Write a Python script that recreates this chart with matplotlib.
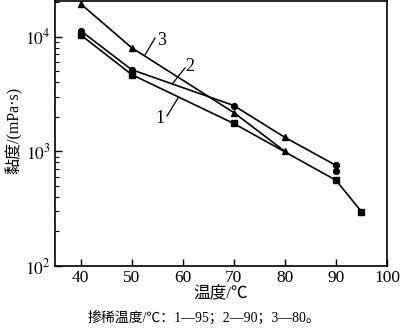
import matplotlib
matplotlib.use("Agg")
import matplotlib.pyplot as plt
from matplotlib.ticker import LogLocator, NullFormatter, FixedLocator

plt.rcParams['font.family'] = ['Liberation Serif', 'Noto Sans CJK SC']
plt.rcParams['mathtext.fontset'] = 'stix'

# Curve 1 (dilution 95 C)
x1 = [40, 50, 70, 90, 95]
y1 = [10400, 4680, 1750, 560, 298]
# Curve 2 (dilution 90 C)
x2 = [40, 50, 70, 80, 90, 90]
y2 = [11300, 5160, 2510, 1325, 755, 670]
m2 = ['o', 'o', 'o', '^', 'o', 'o']
# Curve 3 (dilution 80 C)
x3 = [40, 50, 70, 80]
y3 = [19400, 8020, 2180, 1000]

curve_labels = ['1', '2', '3']
xticks = [40, 50, 60, 70, 80, 90, 100]
yticks = [1e2, 1e3, 1e4]
ytick_labels = ['$10^2$', '$10^3$', '$10^4$']
xlabel = '温度/℃'
ylabel = '黏度/(mPa·s)'
caption = '掺稀温度/℃：1—95；2—90；3—80。'

fig = plt.figure(figsize=(4.0, 3.3), dpi=100)
ax = fig.add_axes([0.1375, 0.194, 0.83, 0.803])

lw = 1.2
ax.plot(x1, y1, color='black', lw=lw, marker='s', ms=4.2)
ax.plot(x2, y2, color='black', lw=lw)
for xi, yi, mk in zip(x2, y2, m2):
    ax.plot([xi], [yi], color='black', marker=mk, ms=4.2 if mk == 'o' else 4.8, ls='none')
ax.plot(x3, y3, color='black', lw=lw, marker='^', ms=4.8)

ax.set_yscale('log')
ax.set_xlim(35, 100)
ax.set_ylim(100, 20500)
ax.xaxis.set_major_locator(FixedLocator(xticks))
ax.set_xticklabels([str(t) for t in xticks])
ax.yaxis.set_major_locator(FixedLocator(yticks))
ax.set_yticklabels(ytick_labels)
ax.yaxis.set_minor_locator(LogLocator(base=10, subs=range(2, 10)))
ax.yaxis.set_minor_formatter(NullFormatter())
ax.tick_params(axis='both', which='major', direction='in', length=5, width=1,
               labelsize=12.5, top=False, right=False, pad=3)
ax.tick_params(axis='y', which='minor', direction='in', length=3, width=0.8, right=False)
for sp in ax.spines.values():
    sp.set_linewidth(1.2)

ax.set_xlabel(xlabel, fontsize=12)
ax.set_ylabel(ylabel, fontsize=11.5)
ax.xaxis.set_label_coords(0.500, -0.075)
ax.yaxis.set_label_coords(-0.097, 0.51)

# curve labels with leader lines (pixel positions converted via axes transform)
def px(xp, yp):
    return (xp - 55) / (387 - 55), (266 - yp) / (266 - 1)

ann = [
    (curve_labels[0], px(167, 116), px(178, 98), px(160, 119)),
    (curve_labels[1], px(173, 83), px(185, 68), px(190, 67)),
    (curve_labels[2], px(145, 55), px(155, 38), px(162, 41)),
]
for lab, p0, p1, pt in ann:
    ax.plot([p0[0], p1[0]], [p0[1], p1[1]], transform=ax.transAxes, color='black', lw=0.9)
    ax.text(pt[0], pt[1], lab, transform=ax.transAxes, fontsize=13, ha='center', va='center')

fig.text(0.51, 0.036, caption, fontsize=10, ha='center', va='center')

fig.savefig('out.png', dpi=100)
